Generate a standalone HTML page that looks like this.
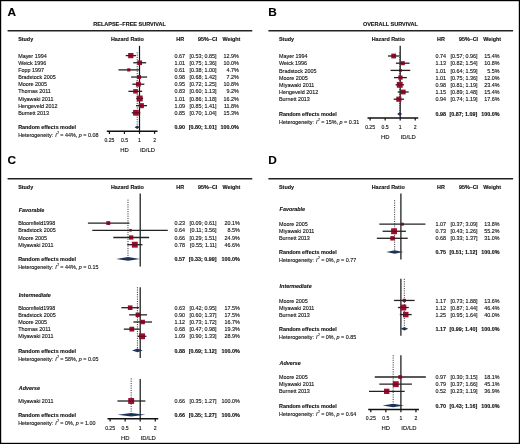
<!DOCTYPE html>
<html><head><meta charset="utf-8"><style>
html,body{margin:0;padding:0;background:#fff;}
svg{display:block;font-family:"Liberation Sans", sans-serif;will-change:transform;}
</style></head><body>
<svg width="520" height="444" viewBox="0 0 520 444">
<rect x="0" y="0" width="520" height="444" fill="#fff"/>
<text x="7.50" y="15.90" font-size="11.8" font-weight="bold" font-style="normal" text-anchor="start" fill="#000" stroke="#000" stroke-width="0.12">A</text>
<text x="129.60" y="26.45" font-size="5.5" font-weight="bold" font-style="normal" text-anchor="middle" fill="#111" stroke="#111" stroke-width="0.12">RELAPSE–FREE SURVIVAL</text>
<line x1="7.60" y1="30.70" x2="252.30" y2="30.70" stroke="#222" stroke-width="1.4" />
<text x="18.20" y="41.00" font-size="5.4" font-weight="bold" font-style="normal" text-anchor="start" fill="#111" stroke="#111" stroke-width="0.12">Study</text>
<text x="127.40" y="41.00" font-size="5.4" font-weight="bold" font-style="normal" text-anchor="middle" fill="#111" stroke="#111" stroke-width="0.12">Hazard Ratio</text>
<text x="180.20" y="41.00" font-size="5.4" font-weight="bold" font-style="normal" text-anchor="middle" fill="#111" stroke="#111" stroke-width="0.12">HR</text>
<text x="217.30" y="41.00" font-size="5.4" font-weight="bold" font-style="normal" text-anchor="end" fill="#111" stroke="#111" stroke-width="0.12">95%–CI</text>
<text x="240.30" y="41.00" font-size="5.4" font-weight="bold" font-style="normal" text-anchor="end" fill="#111" stroke="#111" stroke-width="0.12">Weight</text>
<line x1="139.50" y1="45.80" x2="139.50" y2="131.20" stroke="#111" stroke-width="1.2" />
<line x1="137.21" y1="52.30" x2="137.21" y2="125.20" stroke="#3a3a3a" stroke-width="1.0" stroke-dasharray="1.1 1.2"/>
<text x="18.20" y="57.70" font-size="5.4" font-weight="normal" font-style="normal" text-anchor="start" fill="#111" stroke="#111" stroke-width="0.12">Mayer 1994</text>
<text x="185.10" y="57.70" font-size="5.4" font-weight="normal" font-style="normal" text-anchor="end" fill="#111" stroke="#111" stroke-width="0.12">0.67</text>
<text x="216.60" y="57.70" font-size="5.4" font-weight="normal" font-style="normal" text-anchor="end" fill="#111" stroke="#111" stroke-width="0.12">[0.53; 0.85]</text>
<text x="238.80" y="57.70" font-size="5.4" font-weight="normal" font-style="normal" text-anchor="end" fill="#111" stroke="#111" stroke-width="0.12">12.9%</text>
<line x1="125.72" y1="55.60" x2="135.97" y2="55.60" stroke="#222" stroke-width="1.3" />
<rect x="128.17" y="52.97" width="5.26" height="5.26" fill="#9a0e2e"/>
<line x1="128.17" y1="55.60" x2="133.44" y2="55.60" stroke="#000" stroke-width="1.2" stroke-opacity="0.35"/>
<text x="18.20" y="64.85" font-size="5.4" font-weight="normal" font-style="normal" text-anchor="start" fill="#111" stroke="#111" stroke-width="0.12">Weick 1996</text>
<text x="185.10" y="64.85" font-size="5.4" font-weight="normal" font-style="normal" text-anchor="end" fill="#111" stroke="#111" stroke-width="0.12">1.01</text>
<text x="216.60" y="64.85" font-size="5.4" font-weight="normal" font-style="normal" text-anchor="end" fill="#111" stroke="#111" stroke-width="0.12">[0.75; 1.36]</text>
<text x="238.80" y="64.85" font-size="5.4" font-weight="normal" font-style="normal" text-anchor="end" fill="#111" stroke="#111" stroke-width="0.12">10.0%</text>
<line x1="133.25" y1="62.75" x2="146.18" y2="62.75" stroke="#222" stroke-width="1.3" />
<rect x="137.40" y="60.43" width="4.64" height="4.64" fill="#9a0e2e"/>
<line x1="137.40" y1="62.75" x2="142.03" y2="62.75" stroke="#000" stroke-width="1.2" stroke-opacity="0.35"/>
<text x="18.20" y="72.00" font-size="5.4" font-weight="normal" font-style="normal" text-anchor="start" fill="#111" stroke="#111" stroke-width="0.12">Fopp 1997</text>
<text x="185.10" y="72.00" font-size="5.4" font-weight="normal" font-style="normal" text-anchor="end" fill="#111" stroke="#111" stroke-width="0.12">0.61</text>
<text x="216.60" y="72.00" font-size="5.4" font-weight="normal" font-style="normal" text-anchor="end" fill="#111" stroke="#111" stroke-width="0.12">[0.38; 1.00]</text>
<text x="238.80" y="72.00" font-size="5.4" font-weight="normal" font-style="normal" text-anchor="end" fill="#111" stroke="#111" stroke-width="0.12">4.7%</text>
<line x1="118.49" y1="69.90" x2="139.50" y2="69.90" stroke="#222" stroke-width="1.3" />
<rect x="127.18" y="68.31" width="3.18" height="3.18" fill="#9a0e2e"/>
<line x1="127.18" y1="69.90" x2="130.36" y2="69.90" stroke="#000" stroke-width="1.2" stroke-opacity="0.35"/>
<text x="18.20" y="79.15" font-size="5.4" font-weight="normal" font-style="normal" text-anchor="start" fill="#111" stroke="#111" stroke-width="0.12">Bradstock 2005</text>
<text x="185.10" y="79.15" font-size="5.4" font-weight="normal" font-style="normal" text-anchor="end" fill="#111" stroke="#111" stroke-width="0.12">0.98</text>
<text x="216.60" y="79.15" font-size="5.4" font-weight="normal" font-style="normal" text-anchor="end" fill="#111" stroke="#111" stroke-width="0.12">[0.68; 1.42]</text>
<text x="238.80" y="79.15" font-size="5.4" font-weight="normal" font-style="normal" text-anchor="end" fill="#111" stroke="#111" stroke-width="0.12">7.2%</text>
<line x1="131.13" y1="77.05" x2="147.11" y2="77.05" stroke="#222" stroke-width="1.3" />
<rect x="137.09" y="75.08" width="3.93" height="3.93" fill="#9a0e2e"/>
<line x1="137.09" y1="77.05" x2="141.03" y2="77.05" stroke="#000" stroke-width="1.2" stroke-opacity="0.35"/>
<text x="18.20" y="86.30" font-size="5.4" font-weight="normal" font-style="normal" text-anchor="start" fill="#111" stroke="#111" stroke-width="0.12">Moore 2005</text>
<text x="185.10" y="86.30" font-size="5.4" font-weight="normal" font-style="normal" text-anchor="end" fill="#111" stroke="#111" stroke-width="0.12">0.95</text>
<text x="216.60" y="86.30" font-size="5.4" font-weight="normal" font-style="normal" text-anchor="end" fill="#111" stroke="#111" stroke-width="0.12">[0.72; 1.25]</text>
<text x="238.80" y="86.30" font-size="5.4" font-weight="normal" font-style="normal" text-anchor="end" fill="#111" stroke="#111" stroke-width="0.12">10.8%</text>
<line x1="132.37" y1="84.20" x2="144.35" y2="84.20" stroke="#222" stroke-width="1.3" />
<rect x="135.98" y="81.79" width="4.82" height="4.82" fill="#9a0e2e"/>
<line x1="135.98" y1="84.20" x2="140.79" y2="84.20" stroke="#000" stroke-width="1.2" stroke-opacity="0.35"/>
<text x="18.20" y="93.45" font-size="5.4" font-weight="normal" font-style="normal" text-anchor="start" fill="#111" stroke="#111" stroke-width="0.12">Thomas 2011</text>
<text x="185.10" y="93.45" font-size="5.4" font-weight="normal" font-style="normal" text-anchor="end" fill="#111" stroke="#111" stroke-width="0.12">0.83</text>
<text x="216.60" y="93.45" font-size="5.4" font-weight="normal" font-style="normal" text-anchor="end" fill="#111" stroke="#111" stroke-width="0.12">[0.60; 1.13]</text>
<text x="238.80" y="93.45" font-size="5.4" font-weight="normal" font-style="normal" text-anchor="end" fill="#111" stroke="#111" stroke-width="0.12">9.2%</text>
<line x1="128.41" y1="91.35" x2="142.15" y2="91.35" stroke="#222" stroke-width="1.3" />
<rect x="133.23" y="89.13" width="4.45" height="4.45" fill="#9a0e2e"/>
<line x1="133.23" y1="91.35" x2="137.68" y2="91.35" stroke="#000" stroke-width="1.2" stroke-opacity="0.35"/>
<text x="18.20" y="100.60" font-size="5.4" font-weight="normal" font-style="normal" text-anchor="start" fill="#111" stroke="#111" stroke-width="0.12">Miyawaki 2011</text>
<text x="185.10" y="100.60" font-size="5.4" font-weight="normal" font-style="normal" text-anchor="end" fill="#111" stroke="#111" stroke-width="0.12">1.01</text>
<text x="216.60" y="100.60" font-size="5.4" font-weight="normal" font-style="normal" text-anchor="end" fill="#111" stroke="#111" stroke-width="0.12">[0.86; 1.18]</text>
<text x="238.80" y="100.60" font-size="5.4" font-weight="normal" font-style="normal" text-anchor="end" fill="#111" stroke="#111" stroke-width="0.12">16.2%</text>
<line x1="136.23" y1="98.50" x2="143.09" y2="98.50" stroke="#222" stroke-width="1.3" />
<rect x="136.77" y="95.55" width="5.90" height="5.90" fill="#9a0e2e"/>
<line x1="136.77" y1="98.50" x2="142.67" y2="98.50" stroke="#000" stroke-width="1.2" stroke-opacity="0.35"/>
<text x="18.20" y="107.75" font-size="5.4" font-weight="normal" font-style="normal" text-anchor="start" fill="#111" stroke="#111" stroke-width="0.12">Hengeveld 2012</text>
<text x="185.10" y="107.75" font-size="5.4" font-weight="normal" font-style="normal" text-anchor="end" fill="#111" stroke="#111" stroke-width="0.12">1.09</text>
<text x="216.60" y="107.75" font-size="5.4" font-weight="normal" font-style="normal" text-anchor="end" fill="#111" stroke="#111" stroke-width="0.12">[0.85; 1.41]</text>
<text x="238.80" y="107.75" font-size="5.4" font-weight="normal" font-style="normal" text-anchor="end" fill="#111" stroke="#111" stroke-width="0.12">11.8%</text>
<line x1="135.97" y1="105.65" x2="146.96" y2="105.65" stroke="#222" stroke-width="1.3" />
<rect x="138.85" y="103.13" width="5.04" height="5.04" fill="#9a0e2e"/>
<line x1="138.85" y1="105.65" x2="143.89" y2="105.65" stroke="#000" stroke-width="1.2" stroke-opacity="0.35"/>
<text x="18.20" y="114.90" font-size="5.4" font-weight="normal" font-style="normal" text-anchor="start" fill="#111" stroke="#111" stroke-width="0.12">Burnett 2013</text>
<text x="185.10" y="114.90" font-size="5.4" font-weight="normal" font-style="normal" text-anchor="end" fill="#111" stroke="#111" stroke-width="0.12">0.85</text>
<text x="216.60" y="114.90" font-size="5.4" font-weight="normal" font-style="normal" text-anchor="end" fill="#111" stroke="#111" stroke-width="0.12">[0.70; 1.04]</text>
<text x="238.80" y="114.90" font-size="5.4" font-weight="normal" font-style="normal" text-anchor="end" fill="#111" stroke="#111" stroke-width="0.12">15.3%</text>
<line x1="131.76" y1="112.80" x2="140.35" y2="112.80" stroke="#222" stroke-width="1.3" />
<rect x="133.10" y="109.93" width="5.73" height="5.73" fill="#9a0e2e"/>
<line x1="133.10" y1="112.80" x2="138.84" y2="112.80" stroke="#000" stroke-width="1.2" stroke-opacity="0.35"/>
<text x="18.20" y="129.30" font-size="5.4" font-weight="bold" font-style="normal" text-anchor="start" fill="#111" stroke="#111" stroke-width="0.12">Random effects model</text>
<text x="185.10" y="129.30" font-size="5.4" font-weight="bold" font-style="normal" text-anchor="end" fill="#111" stroke="#111" stroke-width="0.12">0.90</text>
<text x="216.60" y="129.30" font-size="5.4" font-weight="bold" font-style="normal" text-anchor="end" fill="#111" stroke="#111" stroke-width="0.12">[0.80; 1.01]</text>
<text x="238.80" y="129.30" font-size="5.4" font-weight="bold" font-style="normal" text-anchor="end" fill="#111" stroke="#111" stroke-width="0.12">100.0%</text>
<polygon points="134.65,127.20 137.21,125.40 139.72,127.20 137.21,129.00" fill="#1e3358"/>
<text x="18.20" y="136.80" font-size="5.4" fill="#111" stroke="#111" stroke-width="0.12">Heterogeneity: <tspan font-style="italic" dx="0.5">I</tspan><tspan font-size="3.2" dy="-3.0" dx="0.5">2</tspan><tspan dy="3.0" dx="-0.2"> = 44%, </tspan><tspan font-style="italic">p</tspan> = 0.08</text>
<line x1="106.80" y1="131.20" x2="157.55" y2="131.20" stroke="#111" stroke-width="1.5" />
<line x1="109.40" y1="131.20" x2="109.40" y2="133.90" stroke="#111" stroke-width="1.2" />
<text x="109.40" y="142.10" font-size="5.1" font-weight="normal" font-style="normal" text-anchor="middle" fill="#111" stroke="#111" stroke-width="0.12">0.25</text>
<line x1="124.45" y1="131.20" x2="124.45" y2="133.90" stroke="#111" stroke-width="1.2" />
<text x="124.45" y="142.10" font-size="5.1" font-weight="normal" font-style="normal" text-anchor="middle" fill="#111" stroke="#111" stroke-width="0.12">0.5</text>
<line x1="139.50" y1="131.20" x2="139.50" y2="133.90" stroke="#111" stroke-width="1.2" />
<text x="139.50" y="142.10" font-size="5.1" font-weight="normal" font-style="normal" text-anchor="middle" fill="#111" stroke="#111" stroke-width="0.12">1</text>
<line x1="154.55" y1="131.20" x2="154.55" y2="133.90" stroke="#111" stroke-width="1.2" />
<text x="154.55" y="142.10" font-size="5.1" font-weight="normal" font-style="normal" text-anchor="middle" fill="#111" stroke="#111" stroke-width="0.12">2</text>
<text x="124.45" y="151.90" font-size="5.9" font-weight="normal" font-style="normal" text-anchor="middle" fill="#111" stroke="#111" stroke-width="0.12">HD</text>
<text x="147.50" y="151.90" font-size="5.9" font-weight="normal" font-style="normal" text-anchor="middle" fill="#111" stroke="#111" stroke-width="0.12">ID/LD</text>
<text x="268.30" y="15.90" font-size="11.8" font-weight="bold" font-style="normal" text-anchor="start" fill="#000" stroke="#000" stroke-width="0.12">B</text>
<text x="390.40" y="26.45" font-size="5.5" font-weight="bold" font-style="normal" text-anchor="middle" fill="#111" stroke="#111" stroke-width="0.12">OVERALL SURVIVAL</text>
<line x1="268.40" y1="30.70" x2="513.10" y2="30.70" stroke="#222" stroke-width="1.4" />
<text x="279.00" y="41.00" font-size="5.4" font-weight="bold" font-style="normal" text-anchor="start" fill="#111" stroke="#111" stroke-width="0.12">Study</text>
<text x="388.20" y="41.00" font-size="5.4" font-weight="bold" font-style="normal" text-anchor="middle" fill="#111" stroke="#111" stroke-width="0.12">Hazard Ratio</text>
<text x="441.00" y="41.00" font-size="5.4" font-weight="bold" font-style="normal" text-anchor="middle" fill="#111" stroke="#111" stroke-width="0.12">HR</text>
<text x="478.10" y="41.00" font-size="5.4" font-weight="bold" font-style="normal" text-anchor="end" fill="#111" stroke="#111" stroke-width="0.12">95%–CI</text>
<text x="501.10" y="41.00" font-size="5.4" font-weight="bold" font-style="normal" text-anchor="end" fill="#111" stroke="#111" stroke-width="0.12">Weight</text>
<line x1="400.20" y1="45.80" x2="400.20" y2="117.90" stroke="#111" stroke-width="1.2" />
<line x1="399.76" y1="52.30" x2="399.76" y2="111.90" stroke="#3a3a3a" stroke-width="1.0" stroke-dasharray="1.1 1.2"/>
<text x="279.00" y="58.10" font-size="5.4" font-weight="normal" font-style="normal" text-anchor="start" fill="#111" stroke="#111" stroke-width="0.12">Mayer 1994</text>
<text x="445.90" y="58.10" font-size="5.4" font-weight="normal" font-style="normal" text-anchor="end" fill="#111" stroke="#111" stroke-width="0.12">0.74</text>
<text x="477.40" y="58.10" font-size="5.4" font-weight="normal" font-style="normal" text-anchor="end" fill="#111" stroke="#111" stroke-width="0.12">[0.57; 0.96]</text>
<text x="499.60" y="58.10" font-size="5.4" font-weight="normal" font-style="normal" text-anchor="end" fill="#111" stroke="#111" stroke-width="0.12">15.4%</text>
<line x1="387.99" y1="56.00" x2="399.31" y2="56.00" stroke="#222" stroke-width="1.3" />
<rect x="391.27" y="53.61" width="4.79" height="4.79" fill="#9a0e2e"/>
<line x1="391.27" y1="56.00" x2="396.06" y2="56.00" stroke="#000" stroke-width="1.2" stroke-opacity="0.35"/>
<text x="279.00" y="65.30" font-size="5.4" font-weight="normal" font-style="normal" text-anchor="start" fill="#111" stroke="#111" stroke-width="0.12">Weick 1996</text>
<text x="445.90" y="65.30" font-size="5.4" font-weight="normal" font-style="normal" text-anchor="end" fill="#111" stroke="#111" stroke-width="0.12">1.13</text>
<text x="477.40" y="65.30" font-size="5.4" font-weight="normal" font-style="normal" text-anchor="end" fill="#111" stroke="#111" stroke-width="0.12">[0.82; 1.54]</text>
<text x="499.60" y="65.30" font-size="5.4" font-weight="normal" font-style="normal" text-anchor="end" fill="#111" stroke="#111" stroke-width="0.12">10.8%</text>
<line x1="395.89" y1="63.20" x2="409.58" y2="63.20" stroke="#222" stroke-width="1.3" />
<rect x="400.85" y="61.20" width="4.01" height="4.01" fill="#9a0e2e"/>
<line x1="400.85" y1="63.20" x2="404.86" y2="63.20" stroke="#000" stroke-width="1.2" stroke-opacity="0.35"/>
<text x="279.00" y="72.50" font-size="5.4" font-weight="normal" font-style="normal" text-anchor="start" fill="#111" stroke="#111" stroke-width="0.12">Bradstock 2005</text>
<text x="445.90" y="72.50" font-size="5.4" font-weight="normal" font-style="normal" text-anchor="end" fill="#111" stroke="#111" stroke-width="0.12">1.01</text>
<text x="477.40" y="72.50" font-size="5.4" font-weight="normal" font-style="normal" text-anchor="end" fill="#111" stroke="#111" stroke-width="0.12">[0.64; 1.59]</text>
<text x="499.60" y="72.50" font-size="5.4" font-weight="normal" font-style="normal" text-anchor="end" fill="#111" stroke="#111" stroke-width="0.12">5.5%</text>
<line x1="390.51" y1="70.40" x2="410.27" y2="70.40" stroke="#222" stroke-width="1.3" />
<rect x="398.99" y="68.97" width="2.86" height="2.86" fill="#9a0e2e"/>
<line x1="398.99" y1="70.40" x2="401.85" y2="70.40" stroke="#000" stroke-width="1.2" stroke-opacity="0.35"/>
<text x="279.00" y="79.70" font-size="5.4" font-weight="normal" font-style="normal" text-anchor="start" fill="#111" stroke="#111" stroke-width="0.12">Moore 2005</text>
<text x="445.90" y="79.70" font-size="5.4" font-weight="normal" font-style="normal" text-anchor="end" fill="#111" stroke="#111" stroke-width="0.12">1.01</text>
<text x="477.40" y="79.70" font-size="5.4" font-weight="normal" font-style="normal" text-anchor="end" fill="#111" stroke="#111" stroke-width="0.12">[0.75; 1.36]</text>
<text x="499.60" y="79.70" font-size="5.4" font-weight="normal" font-style="normal" text-anchor="end" fill="#111" stroke="#111" stroke-width="0.12">12.0%</text>
<line x1="393.95" y1="77.60" x2="406.88" y2="77.60" stroke="#222" stroke-width="1.3" />
<rect x="398.30" y="75.49" width="4.23" height="4.23" fill="#9a0e2e"/>
<line x1="398.30" y1="77.60" x2="402.53" y2="77.60" stroke="#000" stroke-width="1.2" stroke-opacity="0.35"/>
<text x="279.00" y="86.90" font-size="5.4" font-weight="normal" font-style="normal" text-anchor="start" fill="#111" stroke="#111" stroke-width="0.12">Miyawaki 2011</text>
<text x="445.90" y="86.90" font-size="5.4" font-weight="normal" font-style="normal" text-anchor="end" fill="#111" stroke="#111" stroke-width="0.12">0.98</text>
<text x="477.40" y="86.90" font-size="5.4" font-weight="normal" font-style="normal" text-anchor="end" fill="#111" stroke="#111" stroke-width="0.12">[0.81; 1.19]</text>
<text x="499.60" y="86.90" font-size="5.4" font-weight="normal" font-style="normal" text-anchor="end" fill="#111" stroke="#111" stroke-width="0.12">23.4%</text>
<line x1="395.62" y1="84.80" x2="403.98" y2="84.80" stroke="#222" stroke-width="1.3" />
<rect x="396.81" y="81.85" width="5.90" height="5.90" fill="#9a0e2e"/>
<line x1="396.81" y1="84.80" x2="402.71" y2="84.80" stroke="#000" stroke-width="1.2" stroke-opacity="0.35"/>
<text x="279.00" y="94.10" font-size="5.4" font-weight="normal" font-style="normal" text-anchor="start" fill="#111" stroke="#111" stroke-width="0.12">Hengeveld 2012</text>
<text x="445.90" y="94.10" font-size="5.4" font-weight="normal" font-style="normal" text-anchor="end" fill="#111" stroke="#111" stroke-width="0.12">1.15</text>
<text x="477.40" y="94.10" font-size="5.4" font-weight="normal" font-style="normal" text-anchor="end" fill="#111" stroke="#111" stroke-width="0.12">[0.89; 1.48]</text>
<text x="499.60" y="94.10" font-size="5.4" font-weight="normal" font-style="normal" text-anchor="end" fill="#111" stroke="#111" stroke-width="0.12">15.4%</text>
<line x1="397.67" y1="92.00" x2="408.71" y2="92.00" stroke="#222" stroke-width="1.3" />
<rect x="400.84" y="89.61" width="4.79" height="4.79" fill="#9a0e2e"/>
<line x1="400.84" y1="92.00" x2="405.63" y2="92.00" stroke="#000" stroke-width="1.2" stroke-opacity="0.35"/>
<text x="279.00" y="101.30" font-size="5.4" font-weight="normal" font-style="normal" text-anchor="start" fill="#111" stroke="#111" stroke-width="0.12">Burnett 2013</text>
<text x="445.90" y="101.30" font-size="5.4" font-weight="normal" font-style="normal" text-anchor="end" fill="#111" stroke="#111" stroke-width="0.12">0.94</text>
<text x="477.40" y="101.30" font-size="5.4" font-weight="normal" font-style="normal" text-anchor="end" fill="#111" stroke="#111" stroke-width="0.12">[0.74; 1.19]</text>
<text x="499.60" y="101.30" font-size="5.4" font-weight="normal" font-style="normal" text-anchor="end" fill="#111" stroke="#111" stroke-width="0.12">17.6%</text>
<line x1="393.66" y1="99.20" x2="403.98" y2="99.20" stroke="#222" stroke-width="1.3" />
<rect x="396.30" y="96.64" width="5.12" height="5.12" fill="#9a0e2e"/>
<line x1="396.30" y1="99.20" x2="401.41" y2="99.20" stroke="#000" stroke-width="1.2" stroke-opacity="0.35"/>
<text x="279.00" y="116.00" font-size="5.4" font-weight="bold" font-style="normal" text-anchor="start" fill="#111" stroke="#111" stroke-width="0.12">Random effects model</text>
<text x="445.90" y="116.00" font-size="5.4" font-weight="bold" font-style="normal" text-anchor="end" fill="#111" stroke="#111" stroke-width="0.12">0.98</text>
<text x="477.40" y="116.00" font-size="5.4" font-weight="bold" font-style="normal" text-anchor="end" fill="#111" stroke="#111" stroke-width="0.12">[0.87; 1.09]</text>
<text x="499.60" y="116.00" font-size="5.4" font-weight="bold" font-style="normal" text-anchor="end" fill="#111" stroke="#111" stroke-width="0.12">100.0%</text>
<polygon points="397.18,113.90 399.76,112.10 402.07,113.90 399.76,115.70" fill="#1e3358"/>
<text x="279.00" y="123.80" font-size="5.4" fill="#111" stroke="#111" stroke-width="0.12">Heterogeneity: <tspan font-style="italic" dx="0.5">I</tspan><tspan font-size="3.2" dy="-3.0" dx="0.5">2</tspan><tspan dy="3.0" dx="-0.2"> = 15%, </tspan><tspan font-style="italic">p</tspan> = 0.31</text>
<line x1="367.50" y1="117.90" x2="418.25" y2="117.90" stroke="#111" stroke-width="1.5" />
<line x1="370.10" y1="117.90" x2="370.10" y2="120.60" stroke="#111" stroke-width="1.2" />
<text x="370.10" y="128.80" font-size="5.1" font-weight="normal" font-style="normal" text-anchor="middle" fill="#111" stroke="#111" stroke-width="0.12">0.25</text>
<line x1="385.15" y1="117.90" x2="385.15" y2="120.60" stroke="#111" stroke-width="1.2" />
<text x="385.15" y="128.80" font-size="5.1" font-weight="normal" font-style="normal" text-anchor="middle" fill="#111" stroke="#111" stroke-width="0.12">0.5</text>
<line x1="400.20" y1="117.90" x2="400.20" y2="120.60" stroke="#111" stroke-width="1.2" />
<text x="400.20" y="128.80" font-size="5.1" font-weight="normal" font-style="normal" text-anchor="middle" fill="#111" stroke="#111" stroke-width="0.12">1</text>
<line x1="415.25" y1="117.90" x2="415.25" y2="120.60" stroke="#111" stroke-width="1.2" />
<text x="415.25" y="128.80" font-size="5.1" font-weight="normal" font-style="normal" text-anchor="middle" fill="#111" stroke="#111" stroke-width="0.12">2</text>
<text x="385.15" y="138.60" font-size="5.9" font-weight="normal" font-style="normal" text-anchor="middle" fill="#111" stroke="#111" stroke-width="0.12">HD</text>
<text x="408.20" y="138.60" font-size="5.9" font-weight="normal" font-style="normal" text-anchor="middle" fill="#111" stroke="#111" stroke-width="0.12">ID/LD</text>
<text x="7.50" y="163.90" font-size="11.8" font-weight="bold" font-style="normal" text-anchor="start" fill="#000" stroke="#000" stroke-width="0.12">C</text>
<line x1="7.60" y1="178.70" x2="252.30" y2="178.70" stroke="#222" stroke-width="1.4" />
<text x="18.20" y="189.00" font-size="5.4" font-weight="bold" font-style="normal" text-anchor="start" fill="#111" stroke="#111" stroke-width="0.12">Study</text>
<text x="127.40" y="189.00" font-size="5.4" font-weight="bold" font-style="normal" text-anchor="middle" fill="#111" stroke="#111" stroke-width="0.12">Hazard Ratio</text>
<text x="180.20" y="189.00" font-size="5.4" font-weight="bold" font-style="normal" text-anchor="middle" fill="#111" stroke="#111" stroke-width="0.12">HR</text>
<text x="217.30" y="189.00" font-size="5.4" font-weight="bold" font-style="normal" text-anchor="end" fill="#111" stroke="#111" stroke-width="0.12">95%–CI</text>
<text x="240.30" y="189.00" font-size="5.4" font-weight="bold" font-style="normal" text-anchor="end" fill="#111" stroke="#111" stroke-width="0.12">Weight</text>
<text x="18.80" y="211.70" font-size="5.4" font-weight="bold" font-style="italic" text-anchor="start" fill="#111" stroke="#111" stroke-width="0.12">Favorable</text>
<line x1="140.20" y1="193.60" x2="140.20" y2="266.50" stroke="#111" stroke-width="1.2" />
<line x1="127.99" y1="199.60" x2="127.99" y2="256.90" stroke="#3a3a3a" stroke-width="1.0" stroke-dasharray="1.1 1.2"/>
<text x="18.20" y="225.20" font-size="5.4" font-weight="normal" font-style="normal" text-anchor="start" fill="#111" stroke="#111" stroke-width="0.12">Bloomfield1998</text>
<text x="185.10" y="225.20" font-size="5.4" font-weight="normal" font-style="normal" text-anchor="end" fill="#111" stroke="#111" stroke-width="0.12">0.23</text>
<text x="216.60" y="225.20" font-size="5.4" font-weight="normal" font-style="normal" text-anchor="end" fill="#111" stroke="#111" stroke-width="0.12">[0.09; 0.61]</text>
<text x="239.80" y="225.20" font-size="5.4" font-weight="normal" font-style="normal" text-anchor="end" fill="#111" stroke="#111" stroke-width="0.12">20.1%</text>
<line x1="87.92" y1="223.10" x2="129.47" y2="223.10" stroke="#222" stroke-width="1.3" />
<rect x="106.35" y="221.16" width="3.87" height="3.87" fill="#9a0e2e"/>
<line x1="106.35" y1="223.10" x2="110.23" y2="223.10" stroke="#000" stroke-width="1.2" stroke-opacity="0.35"/>
<text x="18.20" y="232.40" font-size="5.4" font-weight="normal" font-style="normal" text-anchor="start" fill="#111" stroke="#111" stroke-width="0.12">Bradstock 2005</text>
<text x="185.10" y="232.40" font-size="5.4" font-weight="normal" font-style="normal" text-anchor="end" fill="#111" stroke="#111" stroke-width="0.12">0.64</text>
<text x="216.60" y="232.40" font-size="5.4" font-weight="normal" font-style="normal" text-anchor="end" fill="#111" stroke="#111" stroke-width="0.12">[0.11; 3.56]</text>
<text x="239.80" y="232.40" font-size="5.4" font-weight="normal" font-style="normal" text-anchor="end" fill="#111" stroke="#111" stroke-width="0.12">8.5%</text>
<line x1="92.27" y1="230.30" x2="167.77" y2="230.30" stroke="#222" stroke-width="1.3" />
<rect x="129.25" y="229.04" width="2.52" height="2.52" fill="#9a0e2e"/>
<line x1="129.25" y1="230.30" x2="131.77" y2="230.30" stroke="#000" stroke-width="1.2" stroke-opacity="0.35"/>
<text x="18.20" y="239.60" font-size="5.4" font-weight="normal" font-style="normal" text-anchor="start" fill="#111" stroke="#111" stroke-width="0.12">Moore 2005</text>
<text x="185.10" y="239.60" font-size="5.4" font-weight="normal" font-style="normal" text-anchor="end" fill="#111" stroke="#111" stroke-width="0.12">0.66</text>
<text x="216.60" y="239.60" font-size="5.4" font-weight="normal" font-style="normal" text-anchor="end" fill="#111" stroke="#111" stroke-width="0.12">[0.29; 1.51]</text>
<text x="239.80" y="239.60" font-size="5.4" font-weight="normal" font-style="normal" text-anchor="end" fill="#111" stroke="#111" stroke-width="0.12">24.9%</text>
<line x1="113.32" y1="237.50" x2="149.15" y2="237.50" stroke="#222" stroke-width="1.3" />
<rect x="129.02" y="235.34" width="4.31" height="4.31" fill="#9a0e2e"/>
<line x1="129.02" y1="237.50" x2="133.33" y2="237.50" stroke="#000" stroke-width="1.2" stroke-opacity="0.35"/>
<text x="18.20" y="246.80" font-size="5.4" font-weight="normal" font-style="normal" text-anchor="start" fill="#111" stroke="#111" stroke-width="0.12">Miyawaki 2011</text>
<text x="185.10" y="246.80" font-size="5.4" font-weight="normal" font-style="normal" text-anchor="end" fill="#111" stroke="#111" stroke-width="0.12">0.78</text>
<text x="216.60" y="246.80" font-size="5.4" font-weight="normal" font-style="normal" text-anchor="end" fill="#111" stroke="#111" stroke-width="0.12">[0.55; 1.11]</text>
<text x="239.80" y="246.80" font-size="5.4" font-weight="normal" font-style="normal" text-anchor="end" fill="#111" stroke="#111" stroke-width="0.12">46.6%</text>
<line x1="127.22" y1="244.70" x2="142.47" y2="244.70" stroke="#222" stroke-width="1.3" />
<rect x="131.86" y="241.75" width="5.90" height="5.90" fill="#9a0e2e"/>
<line x1="131.86" y1="244.70" x2="137.76" y2="244.70" stroke="#000" stroke-width="1.2" stroke-opacity="0.35"/>
<text x="18.20" y="261.00" font-size="5.4" font-weight="bold" font-style="normal" text-anchor="start" fill="#111" stroke="#111" stroke-width="0.12">Random effects model</text>
<text x="185.10" y="261.00" font-size="5.4" font-weight="bold" font-style="normal" text-anchor="end" fill="#111" stroke="#111" stroke-width="0.12">0.57</text>
<text x="216.60" y="261.00" font-size="5.4" font-weight="bold" font-style="normal" text-anchor="end" fill="#111" stroke="#111" stroke-width="0.12">[0.33; 0.99]</text>
<text x="239.80" y="261.00" font-size="5.4" font-weight="bold" font-style="normal" text-anchor="end" fill="#111" stroke="#111" stroke-width="0.12">100.0%</text>
<polygon points="116.13,258.90 127.99,257.10 139.98,258.90 127.99,260.70" fill="#1e3358"/>
<text x="18.20" y="269.10" font-size="5.4" fill="#111" stroke="#111" stroke-width="0.12">Heterogeneity: <tspan font-style="italic" dx="0.5">I</tspan><tspan font-size="3.2" dy="-3.0" dx="0.5">2</tspan><tspan dy="3.0" dx="-0.2"> = 44%, </tspan><tspan font-style="italic">p</tspan> = 0.15</text>
<text x="18.80" y="296.60" font-size="5.4" font-weight="bold" font-style="italic" text-anchor="start" fill="#111" stroke="#111" stroke-width="0.12">Intermediate</text>
<line x1="140.20" y1="287.20" x2="140.20" y2="358.10" stroke="#111" stroke-width="1.2" />
<line x1="137.42" y1="287.20" x2="137.42" y2="348.40" stroke="#3a3a3a" stroke-width="1.0" stroke-dasharray="1.1 1.2"/>
<text x="18.20" y="309.80" font-size="5.4" font-weight="normal" font-style="normal" text-anchor="start" fill="#111" stroke="#111" stroke-width="0.12">Bloomfield1998</text>
<text x="185.10" y="309.80" font-size="5.4" font-weight="normal" font-style="normal" text-anchor="end" fill="#111" stroke="#111" stroke-width="0.12">0.63</text>
<text x="216.60" y="309.80" font-size="5.4" font-weight="normal" font-style="normal" text-anchor="end" fill="#111" stroke="#111" stroke-width="0.12">[0.42; 0.95]</text>
<text x="239.80" y="309.80" font-size="5.4" font-weight="normal" font-style="normal" text-anchor="end" fill="#111" stroke="#111" stroke-width="0.12">17.5%</text>
<line x1="121.36" y1="307.70" x2="139.09" y2="307.70" stroke="#222" stroke-width="1.3" />
<rect x="127.87" y="305.40" width="4.59" height="4.59" fill="#9a0e2e"/>
<line x1="127.87" y1="307.70" x2="132.46" y2="307.70" stroke="#000" stroke-width="1.2" stroke-opacity="0.35"/>
<text x="18.20" y="316.95" font-size="5.4" font-weight="normal" font-style="normal" text-anchor="start" fill="#111" stroke="#111" stroke-width="0.12">Bradstock 2005</text>
<text x="185.10" y="316.95" font-size="5.4" font-weight="normal" font-style="normal" text-anchor="end" fill="#111" stroke="#111" stroke-width="0.12">0.90</text>
<text x="216.60" y="316.95" font-size="5.4" font-weight="normal" font-style="normal" text-anchor="end" fill="#111" stroke="#111" stroke-width="0.12">[0.60; 1.37]</text>
<text x="239.80" y="316.95" font-size="5.4" font-weight="normal" font-style="normal" text-anchor="end" fill="#111" stroke="#111" stroke-width="0.12">17.5%</text>
<line x1="129.11" y1="314.85" x2="147.04" y2="314.85" stroke="#222" stroke-width="1.3" />
<rect x="135.62" y="312.55" width="4.59" height="4.59" fill="#9a0e2e"/>
<line x1="135.62" y1="314.85" x2="140.21" y2="314.85" stroke="#000" stroke-width="1.2" stroke-opacity="0.35"/>
<text x="18.20" y="324.10" font-size="5.4" font-weight="normal" font-style="normal" text-anchor="start" fill="#111" stroke="#111" stroke-width="0.12">Moore 2005</text>
<text x="185.10" y="324.10" font-size="5.4" font-weight="normal" font-style="normal" text-anchor="end" fill="#111" stroke="#111" stroke-width="0.12">1.12</text>
<text x="216.60" y="324.10" font-size="5.4" font-weight="normal" font-style="normal" text-anchor="end" fill="#111" stroke="#111" stroke-width="0.12">[0.73; 1.72]</text>
<text x="239.80" y="324.10" font-size="5.4" font-weight="normal" font-style="normal" text-anchor="end" fill="#111" stroke="#111" stroke-width="0.12">16.7%</text>
<line x1="133.37" y1="322.00" x2="151.98" y2="322.00" stroke="#222" stroke-width="1.3" />
<rect x="140.42" y="319.76" width="4.48" height="4.48" fill="#9a0e2e"/>
<line x1="140.42" y1="322.00" x2="144.90" y2="322.00" stroke="#000" stroke-width="1.2" stroke-opacity="0.35"/>
<text x="18.20" y="331.25" font-size="5.4" font-weight="normal" font-style="normal" text-anchor="start" fill="#111" stroke="#111" stroke-width="0.12">Thomas 2011</text>
<text x="185.10" y="331.25" font-size="5.4" font-weight="normal" font-style="normal" text-anchor="end" fill="#111" stroke="#111" stroke-width="0.12">0.68</text>
<text x="216.60" y="331.25" font-size="5.4" font-weight="normal" font-style="normal" text-anchor="end" fill="#111" stroke="#111" stroke-width="0.12">[0.47; 0.98]</text>
<text x="239.80" y="331.25" font-size="5.4" font-weight="normal" font-style="normal" text-anchor="end" fill="#111" stroke="#111" stroke-width="0.12">19.3%</text>
<line x1="123.81" y1="329.15" x2="139.76" y2="329.15" stroke="#222" stroke-width="1.3" />
<rect x="129.42" y="326.74" width="4.82" height="4.82" fill="#9a0e2e"/>
<line x1="129.42" y1="329.15" x2="134.24" y2="329.15" stroke="#000" stroke-width="1.2" stroke-opacity="0.35"/>
<text x="18.20" y="338.40" font-size="5.4" font-weight="normal" font-style="normal" text-anchor="start" fill="#111" stroke="#111" stroke-width="0.12">Miyawaki 2011</text>
<text x="185.10" y="338.40" font-size="5.4" font-weight="normal" font-style="normal" text-anchor="end" fill="#111" stroke="#111" stroke-width="0.12">1.09</text>
<text x="216.60" y="338.40" font-size="5.4" font-weight="normal" font-style="normal" text-anchor="end" fill="#111" stroke="#111" stroke-width="0.12">[0.90; 1.33]</text>
<text x="239.80" y="338.40" font-size="5.4" font-weight="normal" font-style="normal" text-anchor="end" fill="#111" stroke="#111" stroke-width="0.12">28.9%</text>
<line x1="137.91" y1="336.30" x2="146.39" y2="336.30" stroke="#222" stroke-width="1.3" />
<rect x="139.12" y="333.35" width="5.90" height="5.90" fill="#9a0e2e"/>
<line x1="139.12" y1="336.30" x2="145.02" y2="336.30" stroke="#000" stroke-width="1.2" stroke-opacity="0.35"/>
<text x="18.20" y="352.50" font-size="5.4" font-weight="bold" font-style="normal" text-anchor="start" fill="#111" stroke="#111" stroke-width="0.12">Random effects model</text>
<text x="185.10" y="352.50" font-size="5.4" font-weight="bold" font-style="normal" text-anchor="end" fill="#111" stroke="#111" stroke-width="0.12">0.88</text>
<text x="216.60" y="352.50" font-size="5.4" font-weight="bold" font-style="normal" text-anchor="end" fill="#111" stroke="#111" stroke-width="0.12">[0.69; 1.12]</text>
<text x="239.80" y="352.50" font-size="5.4" font-weight="bold" font-style="normal" text-anchor="end" fill="#111" stroke="#111" stroke-width="0.12">100.0%</text>
<polygon points="132.14,350.40 137.42,348.60 142.66,350.40 137.42,352.20" fill="#1e3358"/>
<text x="18.20" y="360.60" font-size="5.4" fill="#111" stroke="#111" stroke-width="0.12">Heterogeneity: <tspan font-style="italic" dx="0.5">I</tspan><tspan font-size="3.2" dy="-3.0" dx="0.5">2</tspan><tspan dy="3.0" dx="-0.2"> = 58%, </tspan><tspan font-style="italic">p</tspan> = 0.05</text>
<text x="18.80" y="390.40" font-size="5.4" font-weight="bold" font-style="italic" text-anchor="start" fill="#111" stroke="#111" stroke-width="0.12">Adverse</text>
<line x1="140.20" y1="378.90" x2="140.20" y2="418.80" stroke="#111" stroke-width="1.2" />
<line x1="131.18" y1="378.40" x2="131.18" y2="412.80" stroke="#3a3a3a" stroke-width="1.0" stroke-dasharray="1.1 1.2"/>
<text x="18.20" y="403.10" font-size="5.4" font-weight="normal" font-style="normal" text-anchor="start" fill="#111" stroke="#111" stroke-width="0.12">Miyawaki 2011</text>
<text x="185.10" y="403.10" font-size="5.4" font-weight="normal" font-style="normal" text-anchor="end" fill="#111" stroke="#111" stroke-width="0.12">0.66</text>
<text x="216.60" y="403.10" font-size="5.4" font-weight="normal" font-style="normal" text-anchor="end" fill="#111" stroke="#111" stroke-width="0.12">[0.35; 1.27]</text>
<text x="239.80" y="403.10" font-size="5.4" font-weight="normal" font-style="normal" text-anchor="end" fill="#111" stroke="#111" stroke-width="0.12">100.0%</text>
<line x1="117.41" y1="401.00" x2="145.39" y2="401.00" stroke="#222" stroke-width="1.3" />
<rect x="128.23" y="398.05" width="5.90" height="5.90" fill="#9a0e2e"/>
<line x1="128.23" y1="401.00" x2="134.13" y2="401.00" stroke="#000" stroke-width="1.2" stroke-opacity="0.35"/>
<text x="18.20" y="416.90" font-size="5.4" font-weight="bold" font-style="normal" text-anchor="start" fill="#111" stroke="#111" stroke-width="0.12">Random effects model</text>
<text x="185.10" y="416.90" font-size="5.4" font-weight="bold" font-style="normal" text-anchor="end" fill="#111" stroke="#111" stroke-width="0.12">0.66</text>
<text x="216.60" y="416.90" font-size="5.4" font-weight="bold" font-style="normal" text-anchor="end" fill="#111" stroke="#111" stroke-width="0.12">[0.35; 1.27]</text>
<text x="239.80" y="416.90" font-size="5.4" font-weight="bold" font-style="normal" text-anchor="end" fill="#111" stroke="#111" stroke-width="0.12">100.0%</text>
<polygon points="117.41,414.80 131.18,413.00 145.39,414.80 131.18,416.60" fill="#1e3358"/>
<text x="18.20" y="425.00" font-size="5.4" fill="#111" stroke="#111" stroke-width="0.12">Heterogeneity: <tspan font-style="italic" dx="0.5">I</tspan><tspan font-size="3.2" dy="-3.0" dx="0.5">2</tspan><tspan dy="3.0" dx="-0.2"> = 0%, </tspan><tspan font-style="italic">p</tspan> = 1.00</text>
<line x1="107.50" y1="418.80" x2="158.25" y2="418.80" stroke="#111" stroke-width="1.5" />
<line x1="110.10" y1="418.80" x2="110.10" y2="421.50" stroke="#111" stroke-width="1.2" />
<text x="110.10" y="429.70" font-size="5.1" font-weight="normal" font-style="normal" text-anchor="middle" fill="#111" stroke="#111" stroke-width="0.12">0.25</text>
<line x1="125.15" y1="418.80" x2="125.15" y2="421.50" stroke="#111" stroke-width="1.2" />
<text x="125.15" y="429.70" font-size="5.1" font-weight="normal" font-style="normal" text-anchor="middle" fill="#111" stroke="#111" stroke-width="0.12">0.5</text>
<line x1="140.20" y1="418.80" x2="140.20" y2="421.50" stroke="#111" stroke-width="1.2" />
<text x="140.20" y="429.70" font-size="5.1" font-weight="normal" font-style="normal" text-anchor="middle" fill="#111" stroke="#111" stroke-width="0.12">1</text>
<line x1="155.25" y1="418.80" x2="155.25" y2="421.50" stroke="#111" stroke-width="1.2" />
<text x="155.25" y="429.70" font-size="5.1" font-weight="normal" font-style="normal" text-anchor="middle" fill="#111" stroke="#111" stroke-width="0.12">2</text>
<text x="125.15" y="439.50" font-size="5.9" font-weight="normal" font-style="normal" text-anchor="middle" fill="#111" stroke="#111" stroke-width="0.12">HD</text>
<text x="148.20" y="439.50" font-size="5.9" font-weight="normal" font-style="normal" text-anchor="middle" fill="#111" stroke="#111" stroke-width="0.12">ID/LD</text>
<text x="268.30" y="163.90" font-size="11.8" font-weight="bold" font-style="normal" text-anchor="start" fill="#000" stroke="#000" stroke-width="0.12">D</text>
<line x1="268.40" y1="178.70" x2="513.10" y2="178.70" stroke="#222" stroke-width="1.4" />
<text x="279.00" y="189.00" font-size="5.4" font-weight="bold" font-style="normal" text-anchor="start" fill="#111" stroke="#111" stroke-width="0.12">Study</text>
<text x="388.20" y="189.00" font-size="5.4" font-weight="bold" font-style="normal" text-anchor="middle" fill="#111" stroke="#111" stroke-width="0.12">Hazard Ratio</text>
<text x="441.00" y="189.00" font-size="5.4" font-weight="bold" font-style="normal" text-anchor="middle" fill="#111" stroke="#111" stroke-width="0.12">HR</text>
<text x="478.10" y="189.00" font-size="5.4" font-weight="bold" font-style="normal" text-anchor="end" fill="#111" stroke="#111" stroke-width="0.12">95%–CI</text>
<text x="501.10" y="189.00" font-size="5.4" font-weight="bold" font-style="normal" text-anchor="end" fill="#111" stroke="#111" stroke-width="0.12">Weight</text>
<text x="279.60" y="211.00" font-size="5.4" font-weight="bold" font-style="italic" text-anchor="start" fill="#111" stroke="#111" stroke-width="0.12">Favorable</text>
<line x1="400.90" y1="193.50" x2="400.90" y2="259.50" stroke="#111" stroke-width="1.2" />
<line x1="394.65" y1="200.20" x2="394.65" y2="250.00" stroke="#3a3a3a" stroke-width="1.0" stroke-dasharray="1.1 1.2"/>
<text x="279.00" y="226.30" font-size="5.4" font-weight="normal" font-style="normal" text-anchor="start" fill="#111" stroke="#111" stroke-width="0.12">Moore 2005</text>
<text x="445.90" y="226.30" font-size="5.4" font-weight="normal" font-style="normal" text-anchor="end" fill="#111" stroke="#111" stroke-width="0.12">1.07</text>
<text x="477.40" y="226.30" font-size="5.4" font-weight="normal" font-style="normal" text-anchor="end" fill="#111" stroke="#111" stroke-width="0.12">[0.37; 3.09]</text>
<text x="499.60" y="226.30" font-size="5.4" font-weight="normal" font-style="normal" text-anchor="end" fill="#111" stroke="#111" stroke-width="0.12">13.8%</text>
<line x1="379.31" y1="224.20" x2="425.40" y2="224.20" stroke="#222" stroke-width="1.3" />
<rect x="400.89" y="222.72" width="2.95" height="2.95" fill="#9a0e2e"/>
<line x1="400.89" y1="224.20" x2="403.84" y2="224.20" stroke="#000" stroke-width="1.2" stroke-opacity="0.35"/>
<text x="279.00" y="233.35" font-size="5.4" font-weight="normal" font-style="normal" text-anchor="start" fill="#111" stroke="#111" stroke-width="0.12">Miyawaki 2011</text>
<text x="445.90" y="233.35" font-size="5.4" font-weight="normal" font-style="normal" text-anchor="end" fill="#111" stroke="#111" stroke-width="0.12">0.73</text>
<text x="477.40" y="233.35" font-size="5.4" font-weight="normal" font-style="normal" text-anchor="end" fill="#111" stroke="#111" stroke-width="0.12">[0.43; 1.26]</text>
<text x="499.60" y="233.35" font-size="5.4" font-weight="normal" font-style="normal" text-anchor="end" fill="#111" stroke="#111" stroke-width="0.12">55.2%</text>
<line x1="382.58" y1="231.25" x2="405.92" y2="231.25" stroke="#222" stroke-width="1.3" />
<rect x="391.12" y="228.30" width="5.90" height="5.90" fill="#9a0e2e"/>
<line x1="391.12" y1="231.25" x2="397.02" y2="231.25" stroke="#000" stroke-width="1.2" stroke-opacity="0.35"/>
<text x="279.00" y="240.40" font-size="5.4" font-weight="normal" font-style="normal" text-anchor="start" fill="#111" stroke="#111" stroke-width="0.12">Burnett 2013</text>
<text x="445.90" y="240.40" font-size="5.4" font-weight="normal" font-style="normal" text-anchor="end" fill="#111" stroke="#111" stroke-width="0.12">0.68</text>
<text x="477.40" y="240.40" font-size="5.4" font-weight="normal" font-style="normal" text-anchor="end" fill="#111" stroke="#111" stroke-width="0.12">[0.33; 1.37]</text>
<text x="499.60" y="240.40" font-size="5.4" font-weight="normal" font-style="normal" text-anchor="end" fill="#111" stroke="#111" stroke-width="0.12">31.0%</text>
<line x1="376.83" y1="238.30" x2="407.74" y2="238.30" stroke="#222" stroke-width="1.3" />
<rect x="390.32" y="236.09" width="4.42" height="4.42" fill="#9a0e2e"/>
<line x1="390.32" y1="238.30" x2="394.74" y2="238.30" stroke="#000" stroke-width="1.2" stroke-opacity="0.35"/>
<text x="279.00" y="254.10" font-size="5.4" font-weight="bold" font-style="normal" text-anchor="start" fill="#111" stroke="#111" stroke-width="0.12">Random effects model</text>
<text x="445.90" y="254.10" font-size="5.4" font-weight="bold" font-style="normal" text-anchor="end" fill="#111" stroke="#111" stroke-width="0.12">0.75</text>
<text x="477.40" y="254.10" font-size="5.4" font-weight="bold" font-style="normal" text-anchor="end" fill="#111" stroke="#111" stroke-width="0.12">[0.51; 1.12]</text>
<text x="499.60" y="254.10" font-size="5.4" font-weight="bold" font-style="normal" text-anchor="end" fill="#111" stroke="#111" stroke-width="0.12">100.0%</text>
<polygon points="386.28,252.00 394.65,250.20 403.36,252.00 394.65,253.80" fill="#1e3358"/>
<text x="279.00" y="262.20" font-size="5.4" fill="#111" stroke="#111" stroke-width="0.12">Heterogeneity: <tspan font-style="italic" dx="0.5">I</tspan><tspan font-size="3.2" dy="-3.0" dx="0.5">2</tspan><tspan dy="3.0" dx="-0.2"> = 0%, </tspan><tspan font-style="italic">p</tspan> = 0.77</text>
<text x="279.60" y="287.70" font-size="5.4" font-weight="bold" font-style="italic" text-anchor="start" fill="#111" stroke="#111" stroke-width="0.12">Intermediate</text>
<line x1="400.90" y1="278.80" x2="400.90" y2="335.70" stroke="#111" stroke-width="1.2" />
<line x1="404.31" y1="278.80" x2="404.31" y2="326.80" stroke="#3a3a3a" stroke-width="1.0" stroke-dasharray="1.1 1.2"/>
<text x="279.00" y="302.55" font-size="5.4" font-weight="normal" font-style="normal" text-anchor="start" fill="#111" stroke="#111" stroke-width="0.12">Moore 2005</text>
<text x="445.90" y="302.55" font-size="5.4" font-weight="normal" font-style="normal" text-anchor="end" fill="#111" stroke="#111" stroke-width="0.12">1.17</text>
<text x="477.40" y="302.55" font-size="5.4" font-weight="normal" font-style="normal" text-anchor="end" fill="#111" stroke="#111" stroke-width="0.12">[0.73; 1.88]</text>
<text x="499.60" y="302.55" font-size="5.4" font-weight="normal" font-style="normal" text-anchor="end" fill="#111" stroke="#111" stroke-width="0.12">13.6%</text>
<line x1="394.07" y1="300.45" x2="414.61" y2="300.45" stroke="#222" stroke-width="1.3" />
<rect x="402.71" y="298.85" width="3.19" height="3.19" fill="#9a0e2e"/>
<line x1="402.71" y1="300.45" x2="405.91" y2="300.45" stroke="#000" stroke-width="1.2" stroke-opacity="0.35"/>
<text x="279.00" y="309.62" font-size="5.4" font-weight="normal" font-style="normal" text-anchor="start" fill="#111" stroke="#111" stroke-width="0.12">Miyawaki 2011</text>
<text x="445.90" y="309.62" font-size="5.4" font-weight="normal" font-style="normal" text-anchor="end" fill="#111" stroke="#111" stroke-width="0.12">1.12</text>
<text x="477.40" y="309.62" font-size="5.4" font-weight="normal" font-style="normal" text-anchor="end" fill="#111" stroke="#111" stroke-width="0.12">[0.87; 1.44]</text>
<text x="499.60" y="309.62" font-size="5.4" font-weight="normal" font-style="normal" text-anchor="end" fill="#111" stroke="#111" stroke-width="0.12">46.4%</text>
<line x1="397.88" y1="307.52" x2="408.82" y2="307.52" stroke="#222" stroke-width="1.3" />
<rect x="400.41" y="304.57" width="5.90" height="5.90" fill="#9a0e2e"/>
<line x1="400.41" y1="307.52" x2="406.31" y2="307.52" stroke="#000" stroke-width="1.2" stroke-opacity="0.35"/>
<text x="279.00" y="316.69" font-size="5.4" font-weight="normal" font-style="normal" text-anchor="start" fill="#111" stroke="#111" stroke-width="0.12">Burnett 2013</text>
<text x="445.90" y="316.69" font-size="5.4" font-weight="normal" font-style="normal" text-anchor="end" fill="#111" stroke="#111" stroke-width="0.12">1.25</text>
<text x="477.40" y="316.69" font-size="5.4" font-weight="normal" font-style="normal" text-anchor="end" fill="#111" stroke="#111" stroke-width="0.12">[0.95; 1.64]</text>
<text x="499.60" y="316.69" font-size="5.4" font-weight="normal" font-style="normal" text-anchor="end" fill="#111" stroke="#111" stroke-width="0.12">40.0%</text>
<line x1="399.79" y1="314.59" x2="411.64" y2="314.59" stroke="#222" stroke-width="1.3" />
<rect x="403.01" y="311.85" width="5.48" height="5.48" fill="#9a0e2e"/>
<line x1="403.01" y1="314.59" x2="408.48" y2="314.59" stroke="#000" stroke-width="1.2" stroke-opacity="0.35"/>
<text x="279.00" y="330.90" font-size="5.4" font-weight="bold" font-style="normal" text-anchor="start" fill="#111" stroke="#111" stroke-width="0.12">Random effects model</text>
<text x="445.90" y="330.90" font-size="5.4" font-weight="bold" font-style="normal" text-anchor="end" fill="#111" stroke="#111" stroke-width="0.12">1.17</text>
<text x="477.40" y="330.90" font-size="5.4" font-weight="bold" font-style="normal" text-anchor="end" fill="#111" stroke="#111" stroke-width="0.12">[0.99; 1.40]</text>
<text x="499.60" y="330.90" font-size="5.4" font-weight="bold" font-style="normal" text-anchor="end" fill="#111" stroke="#111" stroke-width="0.12">100.0%</text>
<polygon points="400.68,328.80 404.31,327.00 408.21,328.80 404.31,330.60" fill="#1e3358"/>
<text x="279.00" y="339.00" font-size="5.4" fill="#111" stroke="#111" stroke-width="0.12">Heterogeneity: <tspan font-style="italic" dx="0.5">I</tspan><tspan font-size="3.2" dy="-3.0" dx="0.5">2</tspan><tspan dy="3.0" dx="-0.2"> = 0%, </tspan><tspan font-style="italic">p</tspan> = 0.85</text>
<text x="279.60" y="364.50" font-size="5.4" font-weight="bold" font-style="italic" text-anchor="start" fill="#111" stroke="#111" stroke-width="0.12">Adverse</text>
<line x1="400.90" y1="355.20" x2="400.90" y2="409.50" stroke="#111" stroke-width="1.2" />
<line x1="393.16" y1="355.20" x2="393.16" y2="403.50" stroke="#3a3a3a" stroke-width="1.0" stroke-dasharray="1.1 1.2"/>
<text x="279.00" y="379.10" font-size="5.4" font-weight="normal" font-style="normal" text-anchor="start" fill="#111" stroke="#111" stroke-width="0.12">Moore 2005</text>
<text x="445.90" y="379.10" font-size="5.4" font-weight="normal" font-style="normal" text-anchor="end" fill="#111" stroke="#111" stroke-width="0.12">0.97</text>
<text x="477.40" y="379.10" font-size="5.4" font-weight="normal" font-style="normal" text-anchor="end" fill="#111" stroke="#111" stroke-width="0.12">[0.30; 3.15]</text>
<text x="499.60" y="379.10" font-size="5.4" font-weight="normal" font-style="normal" text-anchor="end" fill="#111" stroke="#111" stroke-width="0.12">18.1%</text>
<line x1="374.76" y1="377.00" x2="425.81" y2="377.00" stroke="#222" stroke-width="1.3" />
<rect x="398.37" y="375.13" width="3.74" height="3.74" fill="#9a0e2e"/>
<line x1="398.37" y1="377.00" x2="402.11" y2="377.00" stroke="#000" stroke-width="1.2" stroke-opacity="0.35"/>
<text x="279.00" y="386.27" font-size="5.4" font-weight="normal" font-style="normal" text-anchor="start" fill="#111" stroke="#111" stroke-width="0.12">Miyawaki 2011</text>
<text x="445.90" y="386.27" font-size="5.4" font-weight="normal" font-style="normal" text-anchor="end" fill="#111" stroke="#111" stroke-width="0.12">0.79</text>
<text x="477.40" y="386.27" font-size="5.4" font-weight="normal" font-style="normal" text-anchor="end" fill="#111" stroke="#111" stroke-width="0.12">[0.37; 1.66]</text>
<text x="499.60" y="386.27" font-size="5.4" font-weight="normal" font-style="normal" text-anchor="end" fill="#111" stroke="#111" stroke-width="0.12">45.1%</text>
<line x1="379.31" y1="384.17" x2="411.90" y2="384.17" stroke="#222" stroke-width="1.3" />
<rect x="392.83" y="381.22" width="5.90" height="5.90" fill="#9a0e2e"/>
<line x1="392.83" y1="384.17" x2="398.73" y2="384.17" stroke="#000" stroke-width="1.2" stroke-opacity="0.35"/>
<text x="279.00" y="393.44" font-size="5.4" font-weight="normal" font-style="normal" text-anchor="start" fill="#111" stroke="#111" stroke-width="0.12">Burnett 2013</text>
<text x="445.90" y="393.44" font-size="5.4" font-weight="normal" font-style="normal" text-anchor="end" fill="#111" stroke="#111" stroke-width="0.12">0.52</text>
<text x="477.40" y="393.44" font-size="5.4" font-weight="normal" font-style="normal" text-anchor="end" fill="#111" stroke="#111" stroke-width="0.12">[0.23; 1.19]</text>
<text x="499.60" y="393.44" font-size="5.4" font-weight="normal" font-style="normal" text-anchor="end" fill="#111" stroke="#111" stroke-width="0.12">36.9%</text>
<line x1="368.99" y1="391.34" x2="404.68" y2="391.34" stroke="#222" stroke-width="1.3" />
<rect x="384.03" y="388.67" width="5.34" height="5.34" fill="#9a0e2e"/>
<line x1="384.03" y1="391.34" x2="389.37" y2="391.34" stroke="#000" stroke-width="1.2" stroke-opacity="0.35"/>
<text x="279.00" y="407.60" font-size="5.4" font-weight="bold" font-style="normal" text-anchor="start" fill="#111" stroke="#111" stroke-width="0.12">Random effects model</text>
<text x="445.90" y="407.60" font-size="5.4" font-weight="bold" font-style="normal" text-anchor="end" fill="#111" stroke="#111" stroke-width="0.12">0.70</text>
<text x="477.40" y="407.60" font-size="5.4" font-weight="bold" font-style="normal" text-anchor="end" fill="#111" stroke="#111" stroke-width="0.12">[0.43; 1.16]</text>
<text x="499.60" y="407.60" font-size="5.4" font-weight="bold" font-style="normal" text-anchor="end" fill="#111" stroke="#111" stroke-width="0.12">100.0%</text>
<polygon points="382.58,405.50 393.16,403.70 404.12,405.50 393.16,407.30" fill="#1e3358"/>
<text x="279.00" y="415.70" font-size="5.4" fill="#111" stroke="#111" stroke-width="0.12">Heterogeneity: <tspan font-style="italic" dx="0.5">I</tspan><tspan font-size="3.2" dy="-3.0" dx="0.5">2</tspan><tspan dy="3.0" dx="-0.2"> = 0%, </tspan><tspan font-style="italic">p</tspan> = 0.64</text>
<line x1="368.20" y1="409.50" x2="418.95" y2="409.50" stroke="#111" stroke-width="1.5" />
<line x1="370.80" y1="409.50" x2="370.80" y2="412.20" stroke="#111" stroke-width="1.2" />
<text x="370.80" y="420.40" font-size="5.1" font-weight="normal" font-style="normal" text-anchor="middle" fill="#111" stroke="#111" stroke-width="0.12">0.25</text>
<line x1="385.85" y1="409.50" x2="385.85" y2="412.20" stroke="#111" stroke-width="1.2" />
<text x="385.85" y="420.40" font-size="5.1" font-weight="normal" font-style="normal" text-anchor="middle" fill="#111" stroke="#111" stroke-width="0.12">0.5</text>
<line x1="400.90" y1="409.50" x2="400.90" y2="412.20" stroke="#111" stroke-width="1.2" />
<text x="400.90" y="420.40" font-size="5.1" font-weight="normal" font-style="normal" text-anchor="middle" fill="#111" stroke="#111" stroke-width="0.12">1</text>
<line x1="415.95" y1="409.50" x2="415.95" y2="412.20" stroke="#111" stroke-width="1.2" />
<text x="415.95" y="420.40" font-size="5.1" font-weight="normal" font-style="normal" text-anchor="middle" fill="#111" stroke="#111" stroke-width="0.12">2</text>
<text x="385.85" y="430.20" font-size="5.9" font-weight="normal" font-style="normal" text-anchor="middle" fill="#111" stroke="#111" stroke-width="0.12">HD</text>
<text x="408.90" y="430.20" font-size="5.9" font-weight="normal" font-style="normal" text-anchor="middle" fill="#111" stroke="#111" stroke-width="0.12">ID/LD</text>
<rect x="0.6" y="0.6" width="518.8" height="442.8" fill="none" stroke="#000" stroke-width="1.2"/>
</svg>
</body></html>
